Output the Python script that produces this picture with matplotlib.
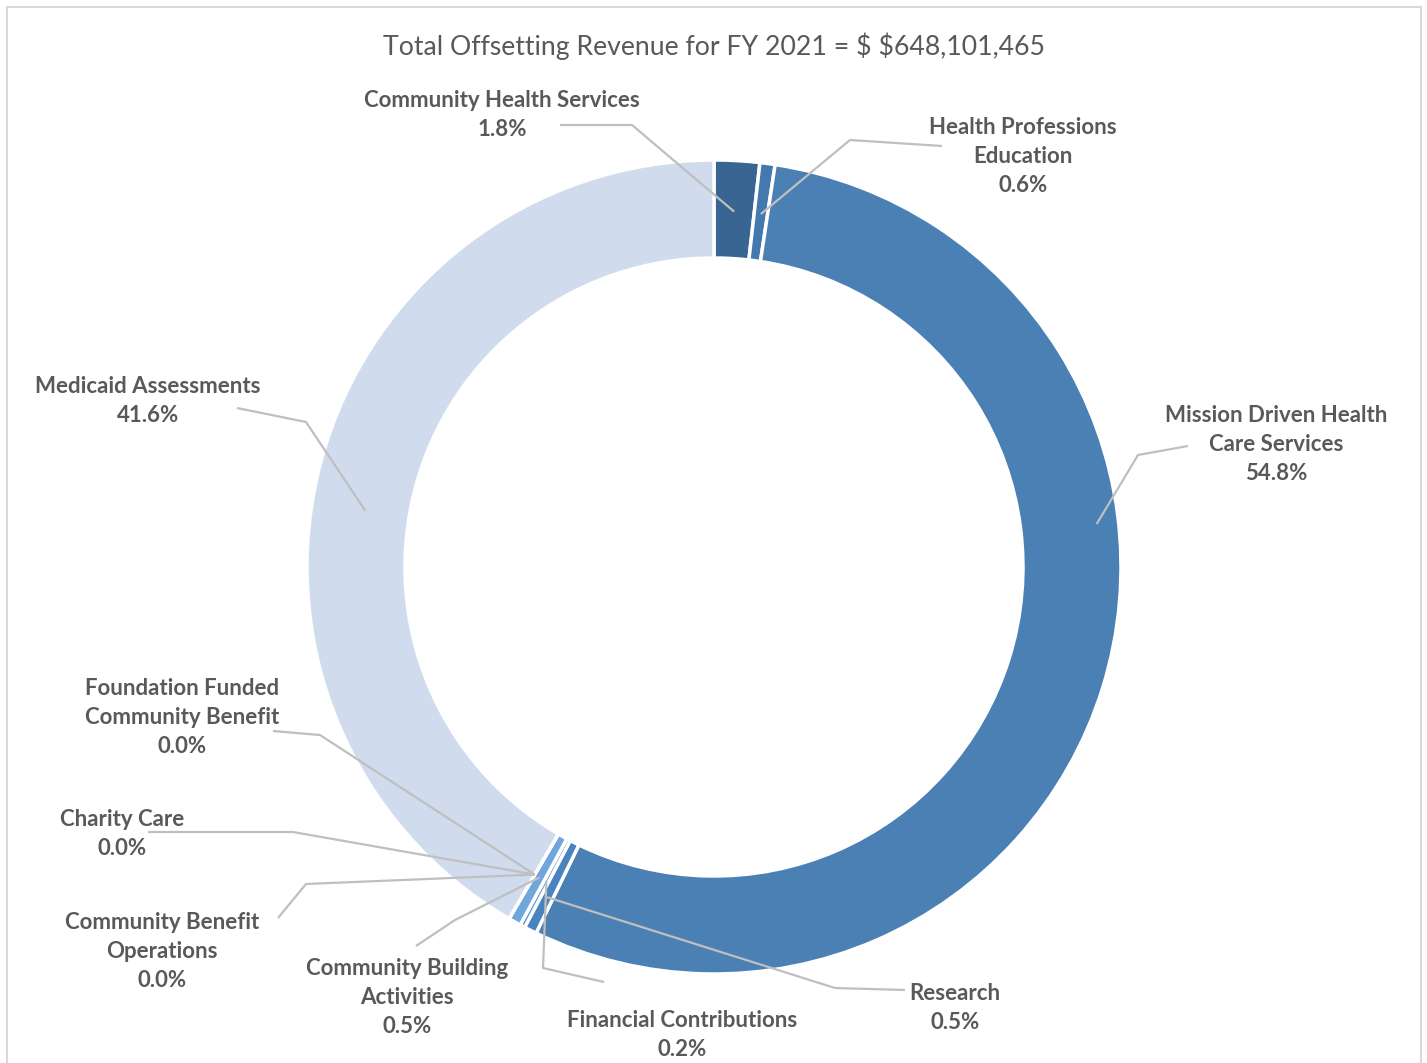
import numpy as np
import matplotlib
matplotlib.use("Agg")
import matplotlib.pyplot as plt
from matplotlib.patches import Rectangle

# ---- data ----
categories = ["Community Health Services", "Health Professions Education",
              "Mission Driven Health Care Services", "Research",
              "Financial Contributions", "Community Building Activities",
              "Community Benefit Operations", "Charity Care",
              "Foundation Funded Community Benefit", "Medicaid Assessments"]
percents = [1.8, 0.6, 54.8, 0.5, 0.2, 0.5, 0.0, 0.0, 0.0, 41.6]
label_texts = ["Community Health Services", "Health Professions\nEducation",
               "Mission Driven Health\nCare Services", "Research",
               "Financial Contributions", "Community Building\nActivities",
               "Community Benefit\nOperations", "Charity Care",
               "Foundation Funded\nCommunity Benefit", "Medicaid Assessments"]
title = "Total Offsetting Revenue for FY 2021 = $ $648,101,465"

colors = ["#386592", "#4479B0", "#4A80B4", "#4A84C0", "#5B97D2", "#6FA6DB",
          "#6FA6DB", "#8CB5E0", "#A9C6E8", "#D0DCEE"]

W, H = 1427, 1063
CX, CY = 714, 567
R_OUT, R_IN = 407, 309
LINE_H = 29.5

# layout: label center (x, first-line y), elbow points (pixels from top),
# leader anchor (fraction along slice, radius)
layout = {
    "Community Health Services": ((502, 98), [(560, 125), (632, 125)], (0.5, 356)),
    "Health Professions Education": ((1023, 125), [(942, 146), (850, 140)], (0.5, 356)),
    "Mission Driven Health Care Services": ((1276, 413), [(1188, 446), (1138, 455)], (0.38, 385)),
    "Research": ((955, 991), [(905, 990), (835, 988)], (0.5, 370)),
    "Financial Contributions": ((682, 1018), [(604, 982), (543, 968)], (0.5, 356)),
    "Community Building Activities": ((407, 966), [(416, 946), (455, 920)], (0.5, 356)),
    "Community Benefit Operations": ((162, 920), [(278, 918), (306, 884)], (0.5, 356)),
    "Charity Care": ((122, 817), [(148, 832), (293, 832)], (0.5, 356)),
    "Foundation Funded Community Benefit": ((182, 686), [(273, 731), (320, 735)], (0.5, 356)),
    "Medicaid Assessments": ((148, 384), [(237, 408), (306, 422)], (0.46, 353)),
}

def Y(p):
    return H - p

fig = plt.figure(figsize=(W / 100, H / 100), dpi=100)
ax = fig.add_axes([0, 0, 1, 1])
ax.pie(percents, colors=colors, startangle=90, counterclock=False,
       center=(CX, Y(CY)), radius=R_OUT,
       wedgeprops=dict(width=R_OUT - R_IN, edgecolor="white", linewidth=2.5))
ax.set_xlim(0, W)
ax.set_ylim(0, H)
ax.set_aspect("auto")
ax.axis("off")

# border
ax.add_patch(Rectangle((7, Y(1070)), 1414, 1063, fill=False,
                       edgecolor="#D9D9D9", linewidth=1.5))

font = ["Lato", "DejaVu Sans"]
txtcol = "#595959"
ax.text(714, Y(46), title, ha="center", va="center", fontsize=19.2,
        color=txtcol, family=font, parse_math=False)

total = sum(percents)
cum = 0.0
for cat, lab, p in zip(categories, label_texts, percents):
    (lx, ly), elbows, (frac, rad) = layout[cat]
    ang = (cum + p * frac) / total * 2 * np.pi
    cum += p
    ax_x = CX + rad * np.sin(ang)
    ax_y = CY - rad * np.cos(ang)
    pts = elbows + [(ax_x, ax_y)]
    ax.plot([q[0] for q in pts], [Y(q[1]) for q in pts], color="#BFBFBF",
            linewidth=1.6, solid_capstyle="butt")
    txt = f"{lab}\n{p:.1f}%"
    n = txt.count("\n") + 1
    yc = ly + 2 + (n - 1) * LINE_H / 2
    ax.text(lx, Y(yc), txt, ha="center", va="center",
            fontsize=16, fontweight="bold", color=txtcol, family=font,
            linespacing=1.49)

fig.savefig("out.png", dpi=100)
